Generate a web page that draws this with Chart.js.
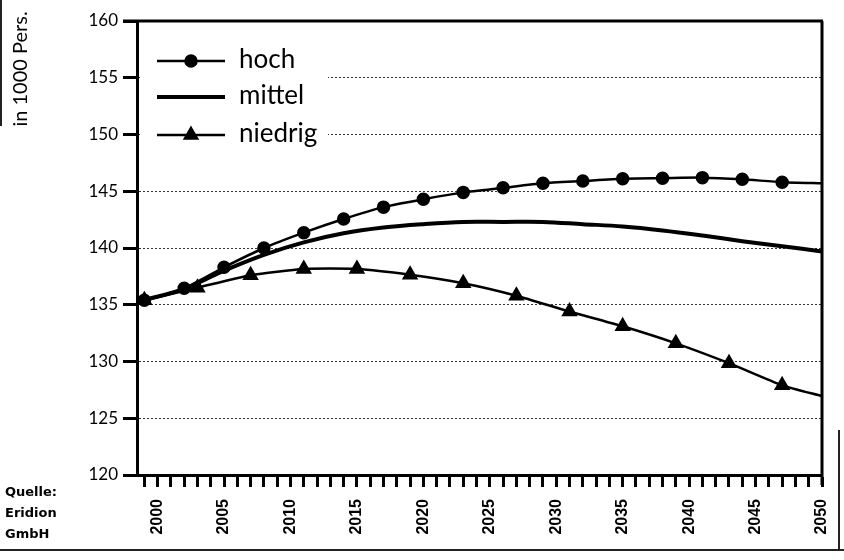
<!DOCTYPE html>
<html>
<head>
<meta charset="utf-8">
<script src="https://cdn.jsdelivr.net/npm/chart.js@4.4.1/dist/chart.umd.min.js"></script>
<style>
  html, body { margin: 0; padding: 0; background: #fff; }
  #wrap { width: 844px; height: 560px; position: relative; }
</style>
</head>
<body>
<div id="wrap"><canvas id="chart" width="844" height="560"></canvas></div>
<script>
// Bevölkerungsprognose in 1000 Pers. (drei Varianten)
const hochYears = [1999, 2002, 2005, 2008, 2011, 2014, 2017, 2020, 2023, 2026, 2029, 2032, 2035, 2038, 2041, 2044, 2047, 2050];
const hochValues = [135.4, 136.45, 138.3, 140.0, 141.35, 142.55, 143.6, 144.3, 144.9, 145.3, 145.7, 145.9, 146.1, 146.15, 146.2, 146.05, 145.8, 145.7];

const mittelYears = [1999, 2002, 2005, 2008, 2011, 2014, 2017, 2020, 2023, 2026, 2029, 2032, 2035, 2038, 2041, 2044, 2047, 2050];
const mittelValues = [135.4, 136.4, 138.0, 139.4, 140.5, 141.3, 141.8, 142.1, 142.3, 142.3, 142.3, 142.1, 141.9, 141.55, 141.1, 140.6, 140.15, 139.7];

const niedrigYears = [1999, 2003, 2007, 2011, 2015, 2019, 2023, 2027, 2031, 2035, 2039, 2043, 2047, 2050];
const niedrigValues = [135.4, 136.5, 137.6, 138.15, 138.15, 137.65, 136.9, 135.8, 134.4, 133.1, 131.6, 129.85, 127.9, 126.95];

const tickYears = [];
for (let y = 1999; y <= 2050; y++) tickYears.push(y);

const labels = ["hoch", "mittel", "niedrig"];
const yTitle = "in 1000 Pers.";
const sourceLines = ["Quelle:", "Eridion", "GmbH"];

function pts(years, values) {
  return years.map((x, i) => ({ x, y: values[i] }));
}

const extras = {
  id: "extras",
  beforeDatasetsDraw(chart) {
    const { ctx, chartArea: a } = chart;
    ctx.save();
    // legend box covers the grid
    ctx.fillStyle = "#fff";
    ctx.fillRect(a.left + 3, 38, 188, 117);

    const items = [
      { y: 61, w: 2.5, style: "circle" },
      { y: 97, w: 4, style: null },
      { y: 135, w: 2.5, style: "triangle" },
    ];
    items.forEach((it, i) => {
      ctx.strokeStyle = "#000";
      ctx.lineWidth = it.w;
      ctx.beginPath();
      ctx.moveTo(157, it.y);
      ctx.lineTo(225, it.y);
      ctx.stroke();
      ctx.fillStyle = "#000";
      if (it.style) {
        Chart.helpers.drawPoint(ctx, { pointStyle: it.style, radius: it.style === "circle" ? 5.5 : 7, borderWidth: 1 }, 191, it.y);
        ctx.fill();
      }
      ctx.font = "26px Lato";
      ctx.textBaseline = "middle";
      ctx.textAlign = "left";
      ctx.fillText(labels[i], 239, it.y - 1);
    });
    ctx.restore();
  },
  afterDraw(chart) {
    const { ctx, chartArea: a, scales } = chart;
    const yTop = scales.y.getPixelForValue(160);
    ctx.save();
    ctx.strokeStyle = "#000";
    ctx.lineWidth = 3;
    ctx.beginPath();
    ctx.moveTo(123, yTop);
    ctx.lineTo(a.right + 1, yTop);
    ctx.moveTo(a.right, yTop);
    ctx.lineTo(a.right, a.bottom + 10);
    ctx.stroke();

    // y title
    ctx.fillStyle = "#000";
    ctx.font = "20px Lato";
    ctx.translate(21, 69);
    ctx.rotate(-Math.PI / 2);
    ctx.textAlign = "center";
    ctx.textBaseline = "middle";
    ctx.fillText(yTitle, 0, 0);
    ctx.restore();

    // source note
    ctx.save();
    ctx.fillStyle = "#000";
    ctx.font = "bold 13px 'DejaVu Sans'";
    ctx.textBaseline = "middle";
    sourceLines.forEach((t, i) => ctx.fillText(t, 5, 493 + i * 21));

    // scan frame
    ctx.strokeStyle = "#222";
    ctx.lineWidth = 2;
    ctx.beginPath();
    ctx.moveTo(1, 0);
    ctx.lineTo(1, 126);
    ctx.moveTo(0, 550);
    ctx.lineTo(844, 550);
    ctx.moveTo(839, 430);
    ctx.lineTo(839, 550);
    ctx.stroke();
    ctx.restore();
  },
};

new Chart(document.getElementById("chart"), {
  type: "line",
  data: {
    datasets: [
      {
        label: labels[0],
        data: pts(hochYears, hochValues),
        borderColor: "#000",
        backgroundColor: "#000",
        borderWidth: 2.5,
        pointStyle: "circle",
        pointRadius: (c) => (hochYears[c.dataIndex] === 2050 ? 0 : 5.5),
        tension: 0.2,
      },
      {
        label: labels[1],
        data: pts(mittelYears, mittelValues),
        borderColor: "#000",
        borderWidth: 4,
        pointRadius: 0,
        tension: 0.35,
      },
      {
        label: labels[2],
        data: pts(niedrigYears, niedrigValues),
        borderColor: "#000",
        backgroundColor: "#000",
        borderWidth: 2.5,
        pointStyle: "triangle",
        pointRadius: (c) => (niedrigYears[c.dataIndex] === 2050 ? 0 : 7),
        tension: 0.2,
      },
    ],
  },
  options: {
    responsive: false,
    animation: false,
    devicePixelRatio: 1,
    layout: { padding: { top: 21, right: 22, left: 0, bottom: 0 } },
    plugins: { legend: { display: false }, tooltip: { enabled: false } },
    scales: {
      x: {
        type: "linear",
        min: 1998.45,
        max: 2050,
        afterFit: (s) => { s.height = 85; s.paddingLeft = 0; s.paddingRight = 0; },
        afterBuildTicks: (s) => { s.ticks = tickYears.map((v) => ({ value: v })); },
        ticks: {
          autoSkip: false,
          minRotation: 90,
          maxRotation: 90,
          padding: 12,
          color: "#000",
          font: { family: "'Liberation Sans'", size: 16, weight: "bold" },
          callback: (v) => (v % 5 === 0 ? String(v) : ""),
        },
        grid: { drawOnChartArea: false, tickLength: 12, tickWidth: 3, tickColor: "#000" },
        border: { display: true, color: "#000", width: 3 },
      },
      y: {
        min: 120,
        max: 160,
        afterFit: (s) => { s.width = 137; },
        ticks: {
          stepSize: 5,
          padding: 5,
          color: "#000",
          font: { family: "Lato", size: 17 },
        },
        grid: {
          color: (c) => (c.tick && (c.tick.value === 160 || c.tick.value === 120) ? "rgba(0,0,0,0)" : "#333"),
          lineWidth: 1,
          tickLength: 14,
          tickWidth: 3,
          tickColor: "#000",
        },
        border: { display: true, color: "#000", width: 3, dash: [2, 2] },
      },
    },
  },
  plugins: [extras],
});
</script>
</body>
</html>
